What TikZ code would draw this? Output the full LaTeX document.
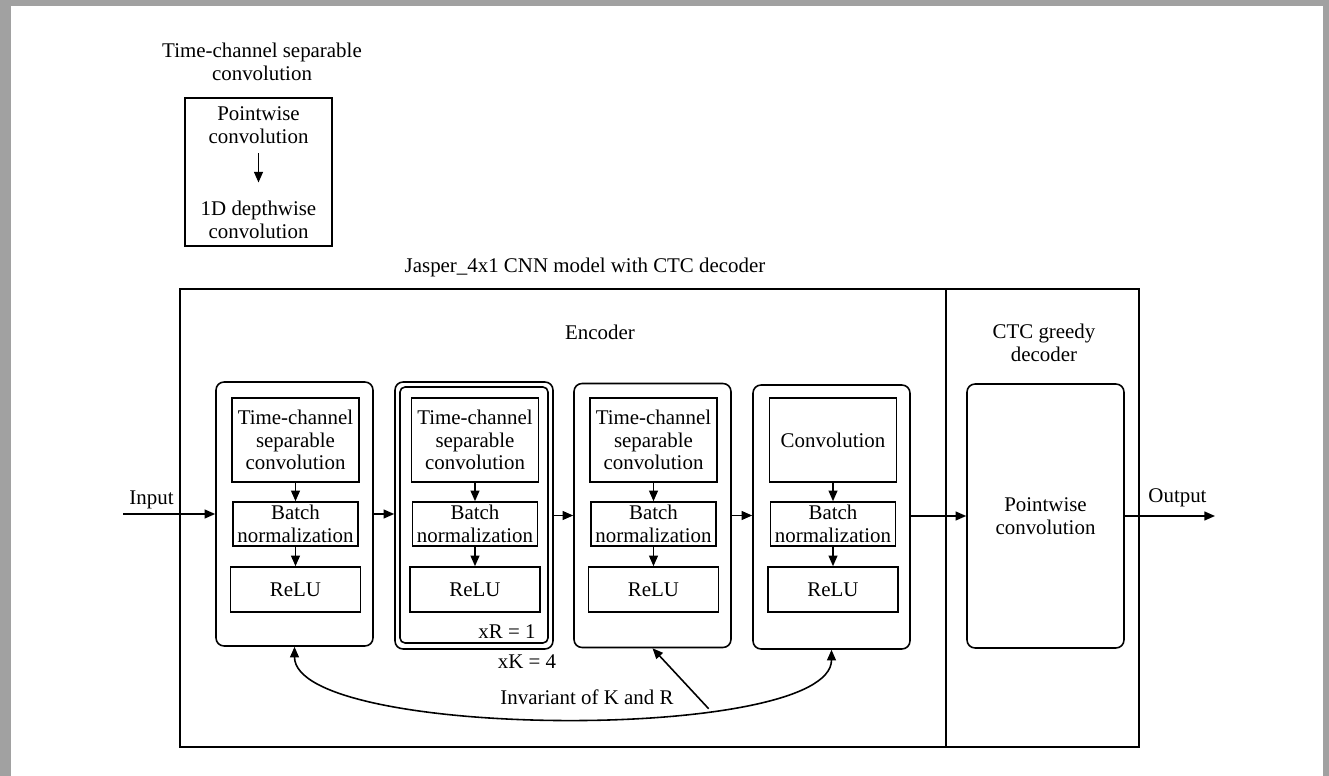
\documentclass[tikz,border=0pt]{standalone}
\usepackage{fontspec}
\setmainfont{Liberation Serif}
\usetikzlibrary{arrows.meta}

\begin{document}
\begin{tikzpicture}[x=0.02cm,y=-0.02cm]
	\tikzstyle{every node}+=[font=\fontsize{11.9}{13}\selectfont, align=center]
	\tikzstyle{layer}=[draw, line width=0.9pt, inner sep=0pt]
	\tikzstyle{block}=[draw, line width=0.9pt, rounded corners=0.16cm, minimum width=3.14cm, minimum height=5.28cm]
	\tikzstyle{arr}=[line width=0.9pt, -{Triangle[length=6pt,width=5pt]}]
	\useasboundingbox (0,0) rectangle (1329,776);
	\fill [black!37] (0,0) rectangle (1329,776);
	\fill [white] (11,6) rectangle (1323,776);

	% separable convolution legend
	\node (septitle) at (262,61.5) {Time-channel separable\\convolution};
	\node [draw, line width=0.9pt, minimum width=2.94cm, minimum height=2.96cm] (sepbox) at (258.5,172) {};
	\node (pw) at (258.5,125) {Pointwise\\convolution};
	\node (dw) at (258.5,220) {1D depthwise\\convolution};
	\draw [arr, shorten <=0.07cm, shorten >=0.25cm] (pw.south) -- (dw.north);

	\node (model) at (585,267) {Jasper\_4x1 CNN model with CTC decoder};
	\draw [line width=0.9pt] (180,289) rectangle (1139,747);
	\draw [line width=0.9pt] (946,289) -- (946,747);
	\node (enc) at (600,332) {Encoder};
	\node (ctc) at (1044,343) {CTC greedy\\decoder};

	% encoder blocks
	\node [block] (b1) at (294.5,514) {};
	\node [block, minimum width=3.16cm, minimum height=5.34cm] (b2) at (474,515.5) {};
	\node [draw, line width=0.9pt, rounded corners=0.1cm, minimum width=2.96cm, minimum height=5.12cm] (b2in) at (474,515) {};
	\node [block] (b3) at (652.5,515.5) {};
	\node [block] (b4) at (831.5,517) {};

	\node [layer, minimum width=2.54cm, minimum height=1.68cm] (t1) at (295.5,440) {Time-channel\\separable\\convolution};
	\node [layer, minimum width=2.5cm, minimum height=0.88cm] (n1) at (295.5,524) {Batch\\normalization};
	\node [layer, minimum width=2.6cm, minimum height=0.9cm] (r1) at (295.5,589.5) {ReLU};
	\draw [arr] (t1) -- (n1);
	\draw [arr] (n1) -- (r1);

	\node [layer, minimum width=2.54cm, minimum height=1.68cm] (t2) at (475,440) {Time-channel\\separable\\convolution};
	\node [layer, minimum width=2.5cm, minimum height=0.88cm] (n2) at (475,524) {Batch\\normalization};
	\node [layer, minimum width=2.6cm, minimum height=0.9cm] (r2) at (475,589.5) {ReLU};
	\draw [arr] (t2) -- (n2);
	\draw [arr] (n2) -- (r2);
	\node (rep) at (507,632) {xR = 1};
	\node (ker) at (527,662) {xK = 4};

	\node [layer, minimum width=2.54cm, minimum height=1.68cm] (t3) at (653.5,440) {Time-channel\\separable\\convolution};
	\node [layer, minimum width=2.5cm, minimum height=0.88cm] (n3) at (653.5,524) {Batch\\normalization};
	\node [layer, minimum width=2.6cm, minimum height=0.9cm] (r3) at (653.5,589.5) {ReLU};
	\draw [arr] (t3) -- (n3);
	\draw [arr] (n3) -- (r3);

	\node [layer, minimum width=2.54cm, minimum height=1.68cm] (t4) at (833,440) {Convolution};
	\node [layer, minimum width=2.5cm, minimum height=0.88cm] (n4) at (833,524) {Batch\\normalization};
	\node [layer, minimum width=2.6cm, minimum height=0.9cm] (r4) at (833,589.5) {ReLU};
	\draw [arr] (t4) -- (n4);
	\draw [arr] (n4) -- (r4);

	% decoder
	\node [block, minimum height=5.28cm] (dec) at (1045.5,516) {Pointwise\\convolution};

	% data flow
	\coordinate (in) at (123,514);
	\coordinate (out) at (1215,516);
	\node (inlbl) at (151.5,500) {Input};
	\node (outlbl) at (1177.5,498) {Output};
	\draw [arr] (in) -- (b1.west);
	\draw [arr] (b1.east) -- (b1.east -| b2.west);
	\draw [arr] (b2.east) -- (b2.east -| b3.west);
	\draw [arr] (b3.east) -- (b3.east -| b4.west);
	\draw [arr] (b4.east |- dec) -- (dec.west);
	\draw [arr] (dec.east) -- (out);

	% shared K and R
	\draw [line width=0.9pt, {Triangle[length=6pt,width=5pt]}-{Triangle[length=6pt,width=5pt]}] (b1.south) .. controls +(0,93) and +(0,93) .. (b4.south) coordinate [pos=0.69] (inv);
	\node (invlbl) at (587,697) {Invariant of K and R};
	\draw [arr] (inv) -- (b3.south);
\end{tikzpicture}
\end{document}
